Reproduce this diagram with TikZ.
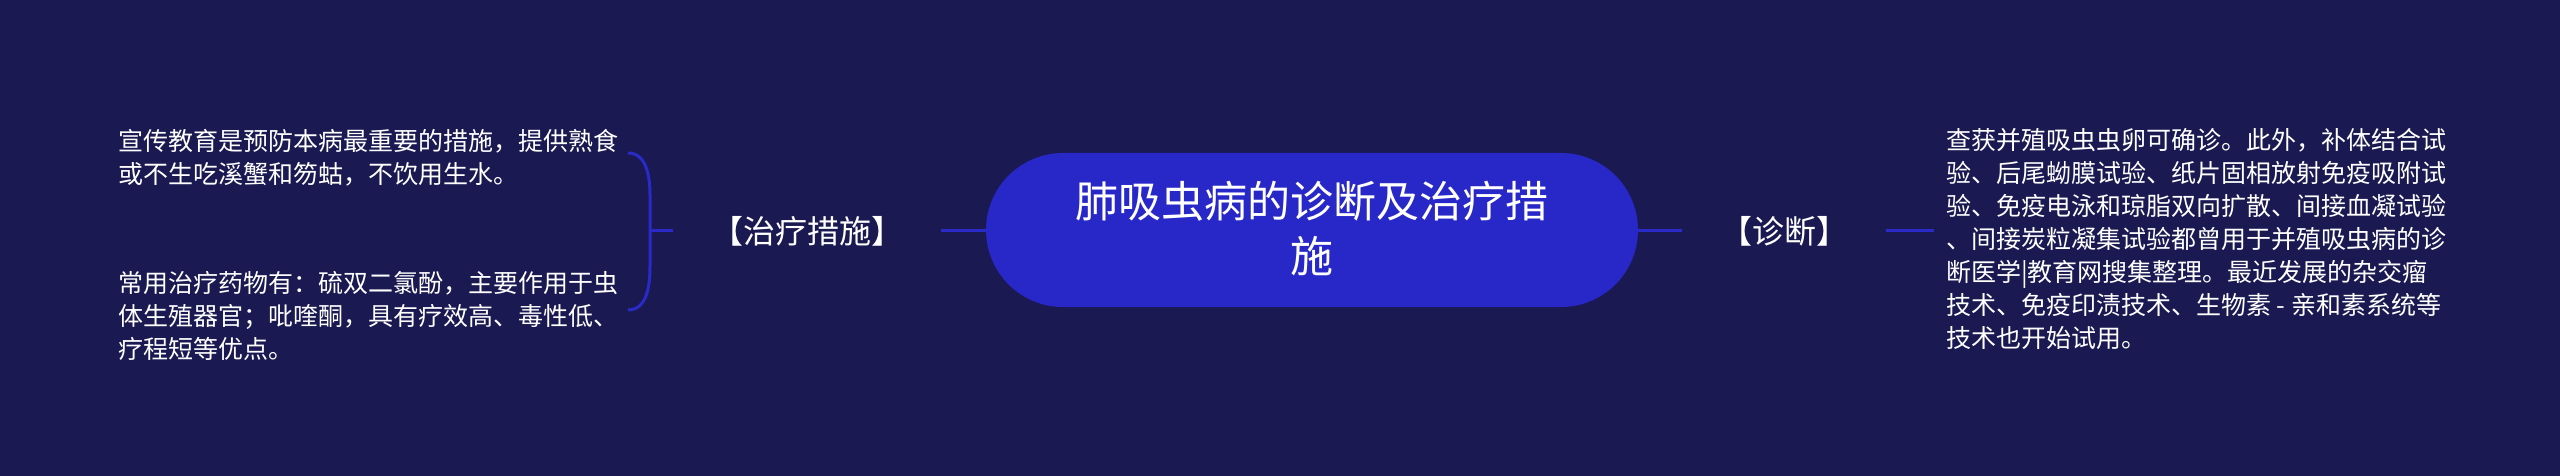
\documentclass[tikz,border=0pt]{standalone}
\usepackage{fontspec}
\setmainfont{Noto Sans CJK SC}
\definecolor{bg}{RGB}{26,25,82}
\definecolor{nodeblue}{RGB}{40,40,200}
\definecolor{linkblue}{RGB}{42,42,200}
\begin{document}
\begin{tikzpicture}[x=1pt,y=-1pt,
  root/.style={fill=nodeblue, rounded corners=77pt, minimum width=652pt, minimum height=154pt,
    text=white, font=\fontsize{43}{55}\selectfont, inner sep=0pt},
  branch/.style={text=white, font=\fontsize{32}{36}\selectfont, inner xsep=38pt, inner ysep=0pt},
  leaf/.style={text=white, font=\fontsize{25}{33}\selectfont, align=left, inner sep=0pt},
  link/.style={draw=linkblue, line width=3pt}]
\fill[bg] (0,0) rectangle (2560,476);
\useasboundingbox (0,0) rectangle (2560,476);

\node[root] (root) at (1312,230) {\raisebox{-4pt}[\height][\depth]{\begin{tabular}{@{}c@{}}肺吸虫病的诊断及治疗措\\施\end{tabular}}};
\node[branch] (lt) at (807,231) {【治疗措施】};
\node[branch] (rd) at (1784,231) {【诊断】};

\node[leaf, anchor=west] (l1) at (118,158) {宣传教育是预防本病最重要的措施，提供熟食\\或不生吃溪蟹和笏蛄，不饮用生水。};
\node[leaf, anchor=west] (l2) at (118,316) {常用治疗药物有：硫双二氯酚，主要作用于虫\\体生殖器官；吡喹酮，具有疗效高、毒性低、\\疗程短等优点。};
\node[leaf, anchor=west, inner xsep=12pt] (r1) at (1934,239) {查获并殖吸虫虫卵可确诊。此外，补体结合试\\验、后尾蚴膜试验、纸片固相放射免疫吸附试\\验、免疫电泳和琼脂双向扩散、间接血凝试验\\、间接炭粒凝集试验都曾用于并殖吸虫病的诊\\断医学|教育网搜集整理。最近发展的杂交瘤\\技术、免疫印渍技术、生物素 - 亲和素系统等\\技术也开始试用。};

\coordinate (bj) at (650,230);
\coordinate (b1) at (628,153);
\coordinate (b2) at (628,310);

\draw[link] (lt.east |- root.west) -- (root.west);
\draw[link] (root.east) -- (rd.west |- root.east);
\draw[link] (rd.east |- root.east) -- (r1.west |- root.east);
\draw[link] (lt.west |- bj) -- (bj);
\draw[link] (b1) to[out=0,in=90] (650,195) -- (650,266) to[out=-90,in=0] (b2);
\end{tikzpicture}
\end{document}
